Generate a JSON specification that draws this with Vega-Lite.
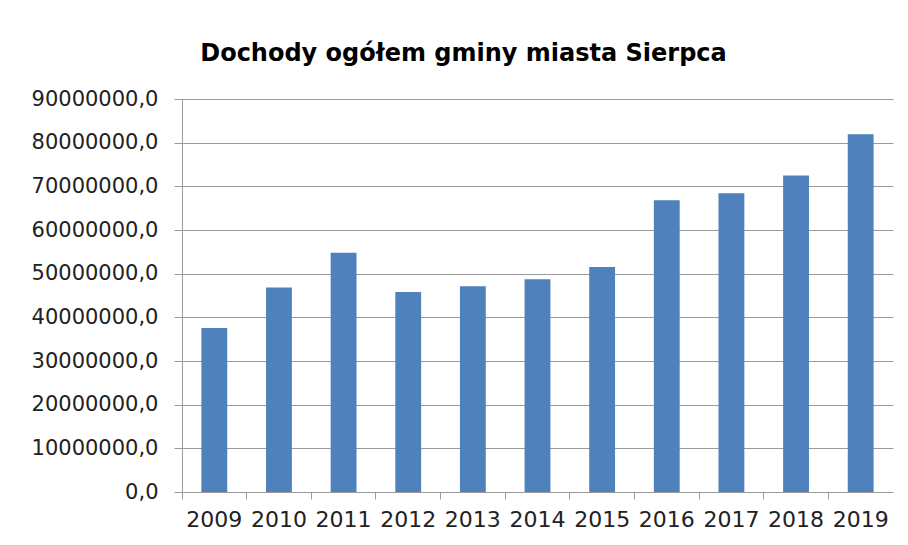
{
  "$schema": "https://vega.github.io/schema/vega-lite/v6.json",
  "width": 711,
  "height": 393,
  "autosize": {"type": "none"},
  "padding": {"left": 182, "top": 99, "right": 15, "bottom": 53},
  "background": "white",
  "title": {
    "text": "Dochody ogółem gminy miasta Sierpca",
    "font": "DejaVu Sans",
    "fontSize": 24,
    "fontWeight": "bold",
    "color": "#000000",
    "anchor": "middle",
    "dx": -74,
    "offset": 22
  },
  "data": {
    "values": [
      {"rok": "2009", "dochody": 37550000},
      {"rok": "2010", "dochody": 46850000},
      {"rok": "2011", "dochody": 54800000},
      {"rok": "2012", "dochody": 45800000},
      {"rok": "2013", "dochody": 47100000},
      {"rok": "2014", "dochody": 48700000},
      {"rok": "2015", "dochody": 51500000},
      {"rok": "2016", "dochody": 66800000},
      {"rok": "2017", "dochody": 68400000},
      {"rok": "2018", "dochody": 72500000},
      {"rok": "2019", "dochody": 81900000}
    ]
  },
  "mark": {"type": "bar", "color": "#4F81BD", "width": {"band": 0.4}},
  "encoding": {
    "x": {
      "field": "rok",
      "type": "nominal",
      "sort": null,
      "scale": {"paddingInner": 0, "paddingOuter": 0},
      "axis": {
        "title": null,
        "labelAngle": 0,
        "bandPosition": 0,
        "labelFont": "DejaVu Sans",
        "labelFontSize": 22,
        "labelColor": "#222222",
        "labelPadding": 10,
        "tickSize": 7,
        "tickColor": "#9a9a9a",
        "domainColor": "#9a9a9a",
        "grid": false
      }
    },
    "y": {
      "field": "dochody",
      "type": "quantitative",
      "scale": {"domain": [0, 90000000], "nice": false},
      "axis": {
        "title": null,
        "values": [0, 10000000, 20000000, 30000000, 40000000, 50000000, 60000000, 70000000, 80000000, 90000000],
        "labelExpr": "replace(format(datum.value, '.1f'), '.', ',')",
        "labelFont": "DejaVu Sans",
        "labelFontSize": 21,
        "labelColor": "#222222",
        "labelPadding": 16,
        "tickSize": 8,
        "tickColor": "#9a9a9a",
        "domainColor": "#9a9a9a",
        "grid": true,
        "gridColor": "#9a9a9a",
        "gridWidth": 1
      }
    }
  },
  "config": {
    "view": {"stroke": null}
  }
}
